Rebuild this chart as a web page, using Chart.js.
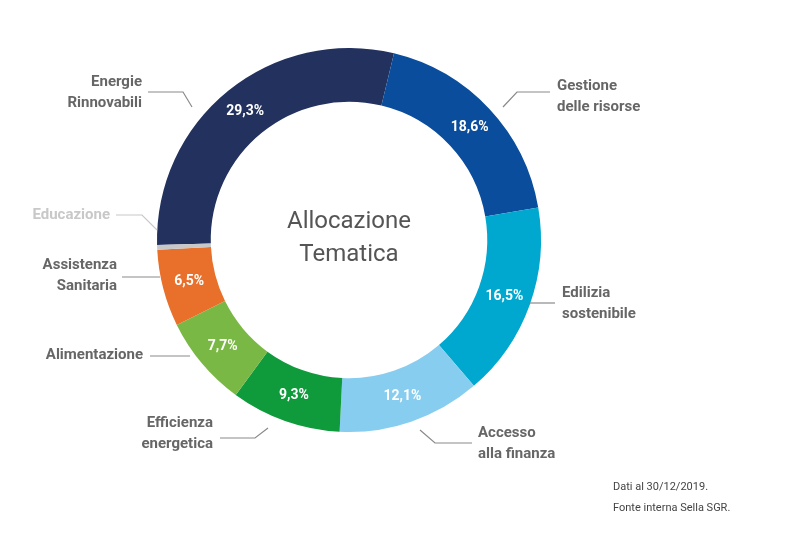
<!DOCTYPE html>
<html>
<head>
<meta charset="utf-8">
<script src="https://cdn.jsdelivr.net/npm/chart.js@4"></script>
<style>
  html, body { margin: 0; padding: 0; background: #fff; }
  canvas { display: block; }
</style>
</head>
<body>
<canvas id="c" width="801" height="533"></canvas>
<script>
// dati
const categorie = ["Energie Rinnovabili", "Gestione delle risorse", "Edilizia sostenibile", "Accesso alla finanza",
  "Efficienza energetica", "Alimentazione", "Assistenza Sanitaria", "Educazione"];
const valori = [29.3, 18.6, 16.5, 12.1, 9.3, 7.7, 6.5, 0.4];
const etichette = ["29,3%", "18,6%", "16,5%", "12,1%", "9,3%", "7,7%", "6,5%", ""];
const colori = ["#22315e", "#0a4d9c", "#00a8d0", "#87cdf0", "#0f9b3c", "#7ab845", "#e8702a", "#c8c8c8"];
const righeNomi = [["Energie", "Rinnovabili"], ["Gestione", "delle risorse"], ["Edilizia", "sostenibile"],
  ["Accesso", "alla finanza"], ["Efficienza", "energetica"], ["Alimentazione"], ["Assistenza", "Sanitaria"], ["Educazione"]];

// layout etichette esterne: testo x, y prima riga, allineamento, linea guida
const layoutNomi = [
  { x: 142, y: 82, align: "right", line: [[192, 107], [183, 92], [148, 92]] },
  { x: 557, y: 86, align: "left", line: [[503, 107], [517, 92], [550, 92]] },
  { x: 562, y: 293, align: "left", line: [[530, 303], [555, 303]] },
  { x: 478, y: 433, align: "left", line: [[420, 430], [435, 443], [472, 443]] },
  { x: 213, y: 423, align: "right", line: [[268, 428], [255, 438], [220, 438]] },
  { x: 143, y: 355, align: "right", line: [[190, 356], [150, 356]] },
  { x: 117, y: 265, align: "right", line: [[160, 277], [122, 277]] },
  { x: 110, y: 215, align: "right", line: [[157, 230], [142, 215], [116, 215]] },
];

const decorazioni = {
  id: "decorazioni",
  afterDatasetsDraw(chart) {
    const ctx = chart.ctx;
    const meta = chart.getDatasetMeta(0);
    ctx.save();
    // percentuali
    ctx.font = "bold 14px Roboto, 'DejaVu Sans', sans-serif";
    ctx.fillStyle = "#fff";
    ctx.textAlign = "center";
    ctx.textBaseline = "middle";
    meta.data.forEach((arc, i) => {
      if (!etichette[i]) return;
      const p = arc.tooltipPosition();
      ctx.fillText(etichette[i], p.x, p.y);
    });
    // nomi e linee guida
    ctx.font = "bold 15px Roboto, 'DejaVu Sans', sans-serif";
    ctx.textBaseline = "middle";
    layoutNomi.forEach((l, i) => {
      const col = i === 7 ? "#c8c8c8" : "#666";
      ctx.strokeStyle = i === 7 ? "#c8c8c8" : "#8a8a8a";
      ctx.lineWidth = 1.2;
      ctx.beginPath();
      l.line.forEach((pt, k) => k ? ctx.lineTo(pt[0], pt[1]) : ctx.moveTo(pt[0], pt[1]));
      ctx.stroke();
      ctx.fillStyle = col;
      ctx.textAlign = l.align;
      righeNomi[i].forEach((r, k) => ctx.fillText(r, l.x, l.y + k * 21));
    });
    // titolo centrale
    ctx.font = "24px Roboto, 'DejaVu Sans', sans-serif";
    ctx.fillStyle = "#555";
    ctx.textAlign = "center";
    ctx.fillText("Allocazione", meta.data[0].x, 222);
    ctx.fillText("Tematica", meta.data[0].x, 255);
    // nota
    ctx.font = "11px Roboto, 'DejaVu Sans', sans-serif";
    ctx.fillStyle = "#444";
    ctx.textAlign = "left";
    ctx.fillText("Dati al 30/12/2019.", 613, 487);
    ctx.fillText("Fonte interna Sella SGR.", 613, 508);
    ctx.restore();
  }
};

new Chart(document.getElementById("c"), {
  type: "doughnut",
  data: {
    labels: categorie,
    datasets: [{ data: valori, backgroundColor: colori, borderWidth: 0 }]
  },
  options: {
    responsive: false,
    animation: false,
    rotation: -91.5,
    cutout: "72%",
    layout: { padding: { left: 157, right: 260, top: 48, bottom: 101 } },
    plugins: { legend: { display: false }, tooltip: { enabled: false } }
  },
  plugins: [decorazioni]
});
</script>
</body>
</html>
